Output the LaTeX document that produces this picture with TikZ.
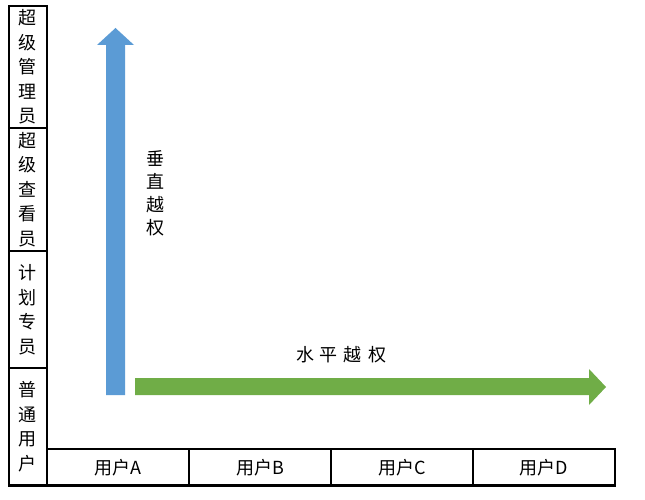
\documentclass[tikz,border=0pt]{standalone}
\usepackage{fontspec}
\setmainfont{Noto Sans CJK SC}
\usepackage{tikz}
\definecolor{vblue}{HTML}{5B9BD5}
\definecolor{hgreen}{HTML}{70AD47}
\tikzset{
	cell/.style={draw=black, line width=2.4pt, inner sep=0pt, align=center, font=\fontsize{18}{24.5}\selectfont},
	lbl/.style={inner sep=0pt, align=center, font=\fontsize{18}{23}\selectfont},
}

\begin{document}
\begin{tikzpicture}[x=1pt, y=-1pt]
			%%%%% START %%%%%
			\useasboundingbox (0, 0) rectangle (645, 500);
			
			% left column
			\node[cell, minimum width=38pt, minimum height=122pt] (roleA) at (28, 67) {超\\级\\管\\理\\员};
			\node[cell, minimum width=38pt, minimum height=123pt] (roleB) at (28, 189.5) {超\\级\\查\\看\\员};
			\node[cell, minimum width=38pt, minimum height=117pt] (roleC) at (28, 309.5) {计\\划\\专\\员};
			\node[cell, minimum width=38pt, minimum height=117.5pt] (roleD) at (28, 426.75) {普\\通\\用\\户};
			
			% bottom row
			\node[cell, minimum width=142pt, minimum height=36.5pt] (userA) at (118, 467.25) {用户A};
			\node[cell, minimum width=142pt, minimum height=36.5pt] (userB) at (260, 467.25) {用户B};
			\node[cell, minimum width=142pt, minimum height=36.5pt] (userC) at (402, 467.25) {用户C};
			\node[cell, minimum width=142pt, minimum height=36.5pt] (userD) at (544, 467.25) {用户D};
			
			% arrows
			\fill[vblue] (106, 395) -- (106, 45) -- (97, 45) -- (115.5, 28) -- (134, 45) -- (125, 45) -- (125, 395) -- cycle;
			\fill[hgreen] (135, 378) -- (589, 378) -- (589, 369) -- (606, 387) -- (589, 405) -- (589, 395) -- (135, 395) -- cycle;
			
			\node[lbl] (vlabel) at (155, 193) {垂\\直\\越\\权};
			\node[lbl] (hlabel) at (341, 355) {水\hspace{6pt}平\hspace{6pt}越\hspace{6pt}权};
			%%%%% END %%%%%
\end{tikzpicture}
\end{document}
